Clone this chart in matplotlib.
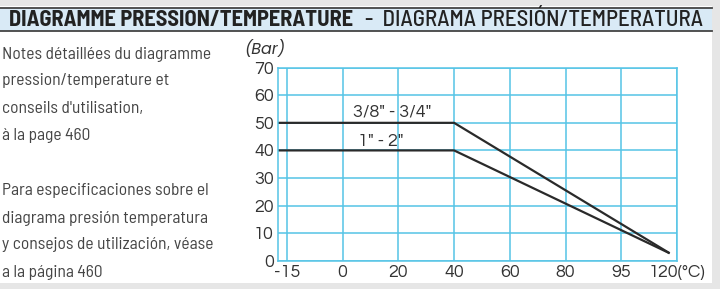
import matplotlib
matplotlib.use("Agg")
import matplotlib.pyplot as plt
import numpy as np
from matplotlib.patches import Rectangle

# ---- data ----
temp_ticks = [-15, 0, 20, 40, 60, 80, 95, 120]
pressure_ticks = [0, 10, 20, 30, 40, 50, 60, 70]
series_names = ['3/8" - 3/4"', '1" - 2"']
series_temps = [[-17.4, 40, 116.7], [-17.4, 40, 116.7]]
series_press = [[50, 50, 2.7], [40, 40, 2.7]]
title_a = "DIAGRAMME PRESSION/TEMPERATURE"
title_b = "-  DIAGRAMA PRESIÓN/TEMPERATURA"
notes_fr = ["Notes détaillées du diagramme", "pression/temperature et",
            "conseils d'utilisation,", "à la page 460"]
notes_es = ["Para especificaciones sobre el", "diagrama presión temperatura",
            "y consejos de utilización, véase", "a la página 460"]

COND = ["Barlow Semi Condensed", "Barlow Condensed", "DejaVu Sans"]
ROUND = ["Questrial", "Didact Gothic", "DejaVu Sans"]
ITAL = ["Poppins", "DejaVu Sans"]

idx = np.arange(len(temp_ticks))


def t2i(t):
    t = np.asarray(t, float)
    out = np.interp(t, temp_ticks, idx)
    lo = t < temp_ticks[0]
    out = np.where(lo, (t - temp_ticks[0]) / (temp_ticks[1] - temp_ticks[0]), out)
    return out


W, H = 720, 289
fig = plt.figure(figsize=(W / 100, H / 100), dpi=100, facecolor="#e6e6e6")

fig.patches.append(Rectangle((0, 6 / H), 712 / W, (283 - 6) / H, transform=fig.transFigure,
                             facecolor="white", edgecolor="none", zorder=-3))
fig.patches.append(Rectangle((0, (H - 31) / H), 712 / W, 23 / H, transform=fig.transFigure,
                             facecolor="#d9eaf6", edgecolor="none", zorder=-2))
for yy in (H - 7.5, H - 31):
    fig.lines.append(plt.Line2D([0, 712 / W], [yy / H, yy / H], transform=fig.transFigure,
                                color="#444444", lw=1.3, zorder=-1))

fig.text(9 / W, (H - 20) / H, title_a, fontsize=16.1, weight="bold", color="#222222",
         va="center", ha="left", family=COND)
fig.text(365 / W, (H - 20) / H, title_b, fontsize=16.5, weight="medium", color="#222222",
         va="center", ha="left", family=COND)

for i, line in enumerate(notes_fr):
    fig.text(2 / W, (H - 54 - i * 27) / H, line, fontsize=12.6, color="#454545",
             va="center", ha="left", family=COND)
for i, line in enumerate(notes_es):
    fig.text(2 / W, (H - 191 - i * 27) / H, line, fontsize=12.6, color="#454545",
             va="center", ha="left", family=COND)

ax = fig.add_axes([278 / W, (H - 260.7) / H, (677 - 278) / W, (260.7 - 67.7) / H], zorder=5)
ax.set_facecolor("white")
grid_c = "#55c4e6"
ax.set_xlim(-0.16, 7)
ax.set_ylim(0, 70)
ax.set_xticks(idx)
labels = [str(t) for t in temp_ticks]
labels[-1] = "120(°C)"
ax.set_xticklabels(labels, family=ROUND)
ax.set_yticks(pressure_ticks)
ax.set_yticklabels([str(p) for p in pressure_ticks], family=ROUND)
ax.grid(True, color=grid_c, lw=1.1)
ax.set_axisbelow(True)
for s in ax.spines.values():
    s.set_color(grid_c)
    s.set_linewidth(1.1)
ax.tick_params(length=0, labelsize=13, colors="#333333", pad=3)
ax.tick_params(axis="x", pad=3)

for name, ts, ps in zip(series_names, series_temps, series_press):
    ax.plot(t2i(ts), ps, color="#2a2a2a", lw=1.6, solid_capstyle="butt", clip_on=False)

ax.text(1.89, 53.7, series_names[0], fontsize=13, color="#333333", ha="center", va="center",
        family=ROUND)
ax.text(1.69, 43.2, series_names[1], fontsize=13, color="#333333", ha="center", va="center",
        family=ROUND)
ax.text(-0.39, 76.8, "(Bar)", fontsize=11.5, style="italic", color="#333333",
        ha="center", va="center", clip_on=False, family=ITAL)

fig.savefig("out.png", dpi=100, facecolor=fig.get_facecolor())
